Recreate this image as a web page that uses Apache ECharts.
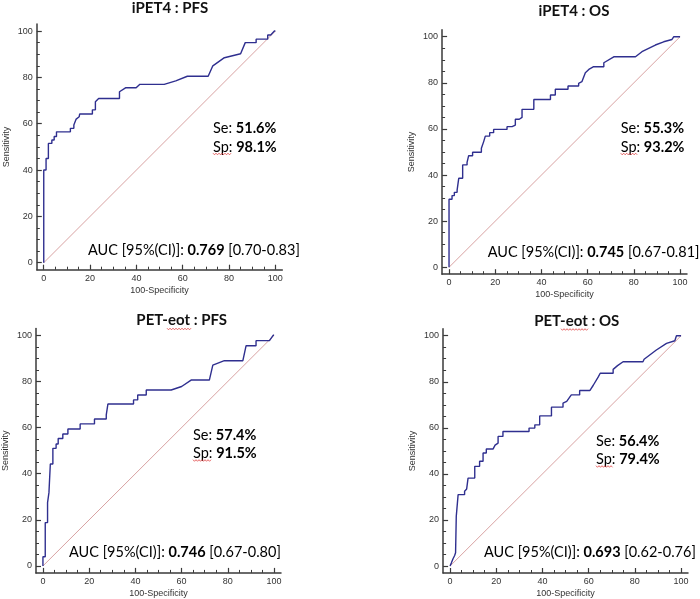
<!DOCTYPE html>
<html>
<head>
<meta charset="utf-8">
<script src="https://cdn.jsdelivr.net/npm/echarts@6/dist/echarts.min.js"></script>
<style>html,body{margin:0;padding:0;background:#fff}#c{width:700px;height:599px}</style>
</head>
<body>
<div id="c"></div>
<script>
// ---- data (100-Specificity, Sensitivity) ----
const ipet4Pfs = [[0,0],[0,40],[1,40],[1,45],[2,45],[2,51.5],[3.5,51.5],[3.5,53],[4.5,53],[4.5,54.5],[5.5,54.5],[5.5,56.5],[11.5,56.5],[11.5,58],[13,58],[13,59.5],[14,62],[15.3,63],[15.5,64.2],[21,64.2],[21,66],[22.3,66],[22.3,69.5],[23.7,70.9],[32.7,70.9],[32.7,73.8],[35.3,75.5],[39.9,75.5],[41.5,77],[52,77],[57,78.5],[62,80.5],[71,80.5],[73,85],[78,88.5],[85,90.2],[87,95],[91.7,95],[91.7,96.5],[96.7,96.5],[96.7,98.3],[98,98.3],[99.6,100],[100,100]];
const ipet4Os = [[0,0],[0,29.5],[1.3,29.5],[1.3,31.1],[2.3,31.1],[2.3,32.5],[3.5,32.5],[3.5,33.5],[4.2,33.8],[4.2,38.6],[5.9,38.6],[5.9,44.4],[7.8,44.4],[7.8,45.5],[8.5,45.5],[8.5,48.4],[10.2,48.4],[10.2,49.9],[14,49.9],[14,51.6],[15,54.5],[15.7,56.9],[17.6,56.9],[17.6,58.4],[19.3,58.4],[19.3,59.8],[25.1,59.8],[25.1,61],[27.3,61],[27.3,61.7],[28.7,61.7],[28.7,64.2],[30.4,64.2],[30.4,65],[31.6,65],[31.6,68.5],[36.7,68.5],[36.7,72.8],[43.9,72.8],[43.9,74.7],[46,74.7],[46,77.2],[51.5,77.2],[51.5,78.6],[56.1,78.6],[56.1,79.8],[57.5,80.5],[59,84.4],[60.5,85.8],[62.6,87],[67,87],[67,88.7],[71.3,91.3],[80.7,91.3],[83.5,93.5],[89.3,96.4],[92.9,97.8],[96.5,98.8],[97.3,98.8],[97.3,100],[100,100]];
const eotPfs = [[0,0],[0,4],[1,4],[1,18.8],[2,18.8],[2,27.5],[2.6,27.5],[2.6,31.8],[3.2,31.8],[3.2,44.2],[4.3,44.2],[4.3,51],[5.7,51],[5.7,52.9],[6.6,52.9],[6.6,55.3],[8.6,55.3],[8.6,57.2],[10.8,57.2],[10.8,59.4],[16.1,59.4],[16.1,61.6],[22.3,61.6],[22.3,63.7],[27.4,63.7],[27.4,65.5],[28.1,65.5],[28.1,70.2],[39.2,70.2],[39.2,72],[41,72],[41,74.1],[44.7,74.1],[44.7,76.3],[55.5,76.3],[60,77.8],[64.1,80.6],[72,80.6],[73.5,87.1],[78.5,89],[86.5,89],[87.9,95.5],[92.2,95.5],[92.2,97.7],[98,97.7],[99.6,100],[100,100]];
const eotOs = [[0,0],[0.6,1.4],[1.3,3.2],[2,4.6],[2.4,5.8],[2.7,5.8],[2.7,21.6],[3.5,21.6],[3.5,31],[6.3,31],[6.3,32.5],[7.2,33.5],[7.8,38.2],[10.7,38.2],[10.7,43.3],[12.8,43.3],[12.8,45.5],[14.3,45.5],[14.3,49.1],[15.7,49.1],[15.7,50.8],[18.6,50.8],[19.5,52.5],[20.8,53.4],[20.8,56.3],[22.9,56.3],[22.9,58.4],[34.2,58.4],[34.2,59.9],[36.7,59.9],[36.7,61.3],[38.8,61.3],[38.8,65.2],[43.9,65.2],[43.9,69],[48.9,69],[48.9,70.7],[50.5,71.5],[52.5,74.3],[56.1,74.3],[56.1,76.2],[60.5,76.2],[62,78.5],[64.1,82],[65,83.7],[70.6,83.7],[70.6,85.4],[72.5,87],[74.9,88.7],[83.5,88.7],[84,89.8],[89.3,93.8],[93.7,96.7],[97.3,97.8],[98,97.8],[98,100],[100,100]];
const diagonal = [[0,0],[100,100]];

const panelTitles = ['iPET4 : PFS', 'iPET4 : OS', 'PET-eot : PFS', 'PET-eot : OS'];
const seValues = ['51.6%', '55.3%', '57.4%', '56.4%'];
const spValues = ['98.1%', '93.2%', '91.5%', '79.4%'];
const aucValues = ['0.769', '0.745', '0.746', '0.693'];
const aucCIs = ['[0.70-0.83]', '[0.67-0.81]', '[0.67-0.80]', '[0.62-0.76]'];
const majorTicks = [0, 20, 40, 60, 80, 100];
const minorTicks = [5, 10, 15, 25, 30, 35, 45, 50, 55, 65, 70, 75, 85, 90, 95];
const curves = [ipet4Pfs, ipet4Os, eotPfs, eotOs];

// ---- layout ----
const grids = [
  {left: 36.8, top: 24.1, width: 245.5, height: 245.6},
  {left: 442.1, top: 29.8, width: 244.9, height: 244.4},
  {left: 35.8, top: 328.4, width: 245.2, height: 244.5},
  {left: 443.1, top: 328.8, width: 244.9, height: 244.9}
];
const titlePos = [[170, 8], [574, 11.5], [181.7, 320], [576.7, 321]];
const sePos = [[213, 128, 147, 88, 250], [620.7, 128, 147, 487.7, 252], [193, 435, 453, 69, 552], [596, 441, 459, 484, 552]];

const AX = '#3a3a3a';
const labelFont = 'Liberation Sans, Arial, sans-serif';
const textFont = 'Lato, "Open Sans", sans-serif';

const xAxis = [], yAxis = [], series = [], graphic = [];
grids.forEach((g, i) => {
  const common = {type: 'value', gridIndex: i, min: -3, max: 103, splitLine: {show: false}};
  xAxis.push(Object.assign({}, common, {
    position: 'bottom',
    axisLine: {show: true, onZero: false, lineStyle: {color: AX, width: 1.5}},
    axisTick: {show: true, inside: true, length: 5, customValues: majorTicks, lineStyle: {color: AX, width: 1.2}},
    axisLabel: {customValues: majorTicks, margin: 4, fontSize: 9, color: '#333', fontFamily: labelFont},
    name: '100-Specificity', nameLocation: 'middle', nameGap: 16,
    nameTextStyle: {fontSize: 9, color: '#333', fontFamily: labelFont}
  }));
  xAxis.push(Object.assign({}, common, {
    position: 'bottom', offset: 0,
    axisLine: {show: false, onZero: false},
    axisTick: {show: true, inside: true, length: 3, customValues: minorTicks, lineStyle: {color: AX, width: 1}},
    axisLabel: {show: false}
  }));
  yAxis.push(Object.assign({}, common, {
    position: 'left',
    axisLine: {show: true, onZero: false, lineStyle: {color: AX, width: 1.5}},
    axisTick: {show: true, inside: true, length: 5, customValues: majorTicks, lineStyle: {color: AX, width: 1.2}},
    axisLabel: {customValues: majorTicks, margin: 4, fontSize: 9, color: '#333', fontFamily: labelFont},
    name: 'Sensitivity', nameLocation: 'middle', nameGap: 26,
    nameTextStyle: {fontSize: 9, color: '#333', fontFamily: labelFont}
  }));
  yAxis.push(Object.assign({}, common, {
    position: 'left', offset: 0,
    axisLine: {show: false, onZero: false},
    axisTick: {show: true, inside: true, length: 3, customValues: minorTicks, lineStyle: {color: AX, width: 1}},
    axisLabel: {show: false}
  }));
  series.push({
    type: 'line', xAxisIndex: 2 * i, yAxisIndex: 2 * i, data: diagonal,
    showSymbol: false, silent: true, z: 1,
    lineStyle: {color: '#d9a3a3', width: 1}
  });
  series.push({
    type: 'line', xAxisIndex: 2 * i, yAxisIndex: 2 * i, data: curves[i],
    showSymbol: false, silent: true, z: 2,
    lineStyle: {color: '#2f2f8f', width: 1.4}
  });

  const rich = {
    r: {fontFamily: textFont, fontSize: 14.5, color: '#111'},
    b: {fontFamily: textFont, fontSize: 14.5, fontWeight: 'bold', color: '#111'}
  };
  graphic.push({type: 'text', x: titlePos[i][0], y: titlePos[i][1],
    style: {text: panelTitles[i], font: 'bold 15px ' + textFont, fill: '#111', align: 'center', verticalAlign: 'middle'}});
  const p = sePos[i];
  graphic.push({type: 'text', x: p[0], y: p[1],
    style: {text: '{r|Se: }{b|' + seValues[i] + '}', rich: rich, verticalAlign: 'middle'}});
  graphic.push({type: 'text', x: p[0], y: p[2],
    style: {text: '{r|Sp: }{b|' + spValues[i] + '}', rich: rich, verticalAlign: 'middle'}});
  graphic.push({type: 'text', x: p[3], y: p[4],
    style: {text: '{r|AUC [95%(CI)]: }{b|' + aucValues[i] + '}{r| ' + aucCIs[i] + '}', rich: rich, verticalAlign: 'middle'}});
});

// spell-check style wavy underlines (decoration)
function wave(x1, x2, y) {
  const pts = [];
  let up = true;
  for (let x = x1; x <= x2; x += 1.5) { pts.push([x, y + (up ? -0.8 : 0.8)]); up = !up; }
  return pts;
}
const waves = [[213, 231, 154], [620.7, 638, 154], [193, 211, 460.5], [596, 613, 466.5], [167, 192, 329], [561, 588, 329.5]];
waves.forEach(w => graphic.push({type: 'polyline', shape: {points: wave(w[0], w[1], w[2])}, style: {stroke: '#e04040', lineWidth: 0.8, fill: null}, silent: true}));

const chart = echarts.init(document.getElementById('c'), null, {renderer: 'canvas'});
chart.setOption({
  animation: false,
  backgroundColor: '#fff',
  grid: grids.map(g => Object.assign({containLabel: false}, g)),
  xAxis: xAxis,
  yAxis: yAxis,
  series: series,
  graphic: graphic
});
</script>
</body>
</html>
